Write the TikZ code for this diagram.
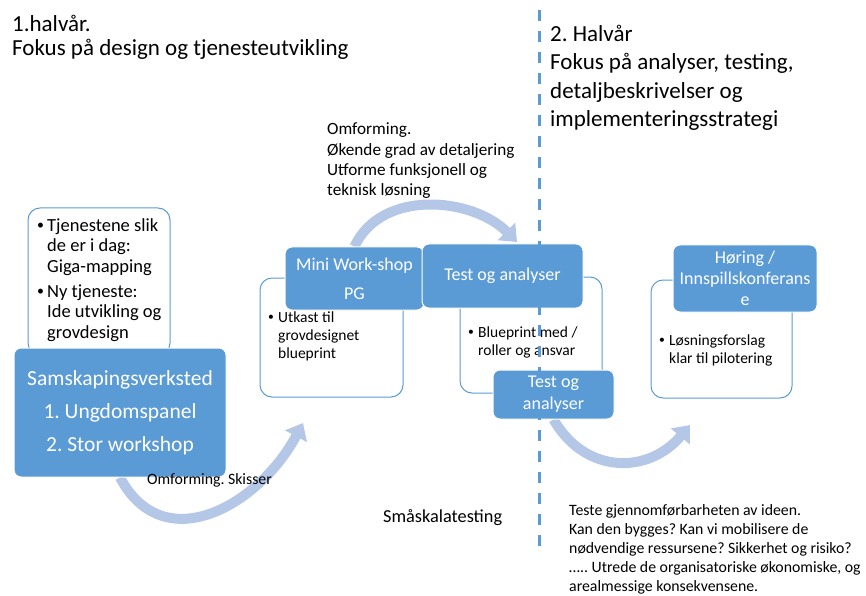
\documentclass[tikz,border=0pt]{standalone}
\usepackage{fontspec}
\setmainfont{Carlito}
\usetikzlibrary{arrows.meta,backgrounds}
\definecolor{blu}{HTML}{5B9BD5}
\definecolor{flowblu}{HTML}{B4C7E7}
\newcommand{\fsz}[2]{\fontsize{#1}{#2}\selectfont}
\newcommand{\blt}{\makebox[10pt][l]{\raisebox{0.1em}{\scalebox{0.75}{\textbullet}}}}
\newcommand{\indt}{\hspace*{10pt}}
\begin{document}
\frenchspacing
\begin{tikzpicture}[x=1pt, y=1pt,
	bluebox/.style={draw=white, line width=1pt, fill=blu, rounded corners=7pt, text=white, align=center, inner sep=0pt},
	plainbox/.style={draw=blu, line width=1pt, fill=white, rounded corners=12pt, inner sep=0pt},
	flow/.style={draw=flowblu, line width=10pt, -{Triangle[width=24pt, length=15pt]}},
	note/.style={anchor=base west, align=left, inner sep=0pt}]
	\useasboundingbox (0,0) rectangle (866,595);

	\coordinate (t1) at (303,172);
	\coordinate (t2) at (517,353);
	\coordinate (t3) at (690,170);
	\coordinate (divtop) at (539,585);
	\coordinate (divbot) at (539,43);

	% first step
	\node[plainbox, minimum width=142, minimum height=147] (nowbox) at (99,313.5) {};
	\node[note, font=\fsz{18.5}{20.5}] (nowtext) at (37,257) {\blt Tjenestene slik\\ \indt de er i dag:\\ \indt Giga-mapping\\[4.5pt] \blt Ny tjeneste:\\ \indt Ide utvikling og\\ \indt grovdesign};
	\node[bluebox, minimum width=212, minimum height=129, font=\fsz{21.5}{33}] (panel) at (120,182.5) {Samskapingsverksted\\1. Ungdomspanel\\2. Stor workshop};

	% second step
	\node[plainbox, minimum width=143, minimum height=119] (draftbox) at (331.5,257.5) {};
	\node[note, font=\fsz{15.5}{18}] (drafttext) at (268,237) {\blt Utkast til\\ \indt grovdesignet\\ \indt blueprint};
	\node[bluebox, minimum width=139, minimum height=63, font=\fsz{18}{29}] (minipg) at (354.5,316.5) {Mini Work-shop\\PG};

	% third step
	\node[plainbox, minimum width=142, minimum height=116] (rolebox) at (531,260) {};
	\node[note, font=\fsz{15.5}{18}] (roletext) at (468,240) {\blt Blueprint med /\\ \indt roller og ansvar};
	\node[bluebox, minimum width=161, minimum height=64, font=\fsz{18}{22}] (testf) at (502.5,319) {Test og analyser};
	\node[bluebox, minimum width=121, minimum height=49, font=\fsz{18}{22}] (testg) at (553.5,200.5) {Test og\\analyser};

	% fourth step
	\node[plainbox, minimum width=141, minimum height=118] (pilotbox) at (721.5,256) {};
	\node[note, font=\fsz{15.5}{18}] (pilottext) at (659,232) {\blt Løsningsforslag\\ \indt klar til pilotering};
	\node[bluebox, minimum width=144, minimum height=67, font=\fsz{18}{21}] (hearing) at (745,316.5) {Høring /\\Innspillskonferans\\e};

	\begin{scope}[on background layer]
	\draw[flow] (panel.south) to[out=-62, in=-118, looseness=1.25] (t1);
	\draw[flow] (minipg.north) to[out=65, in=135] (t2);
	\draw[flow] (testg.south) to[out=-60, in=-130, looseness=1.2] (t3);
	\end{scope}

	\node[note, font=\fsz{15.8}{18}] (sketch) at (147,111) {Omforming. Skisser};
	\node[note, font=\fsz{17.2}{20.2}] (detail) at (327,399.5) {Omforming.\\Økende grad av detaljering\\Utforme funksjonell og\\teknisk løsning};
	\node[note, font=\fsz{18.3}{20}] (smallscale) at (383,73) {Småskalatesting};
	\node[note, font=\fsz{15.8}{19}] (feasible) at (569,4) {Teste gjennomførbarheten av ideen.\\Kan den bygges? Kan vi mobilisere de\\nødvendige ressursene? Sikkerhet og risiko?\\….. Utrede de organisatoriske økonomiske, og\\arealmessige konsekvensene.};

	\node[note, font=\fsz{23}{24}] (half1) at (12,539) {1.halvår.\\Fokus på design og tjenesteutvikling};
	\node[note, font=\fsz{23}{28.5}] (half2) at (550,468) {2. Halvår\\Fokus på analyser, testing,\\detaljbeskrivelser og\\implementeringsstrategi};

	\draw[blu, line width=3pt, dash pattern=on 11pt off 10pt] (divtop) -- (divbot);
\end{tikzpicture}
\end{document}
